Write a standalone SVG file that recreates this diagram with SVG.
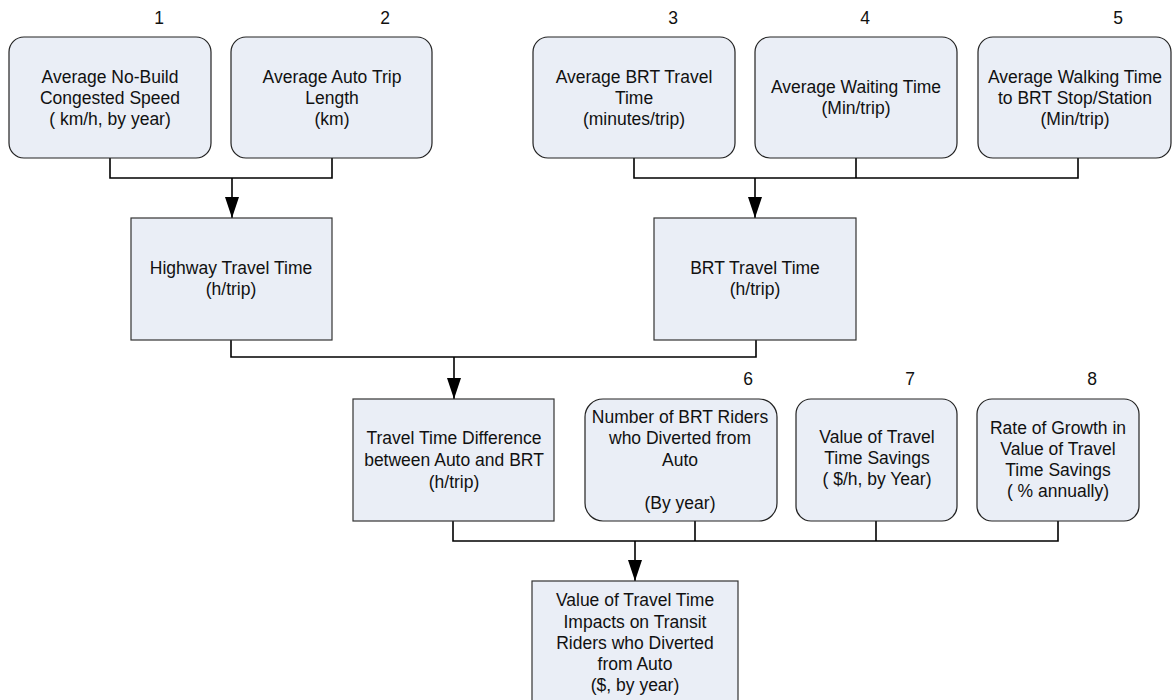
<svg xmlns="http://www.w3.org/2000/svg" width="1173" height="700" viewBox="0 0 1173 700">
  <style>
    text { font-family: "Liberation Sans", Arial, sans-serif; font-size: 17.5px; fill: #111; text-anchor: middle; }
    .input { fill: #eaeef6; stroke: #222; stroke-width: 1.2; }
    .calc { fill: #eaeef6; stroke: #333; stroke-width: 1.2; }
    .wire { fill: none; stroke: #000; stroke-width: 1.6; }
    .flow { fill: none; stroke: #000; stroke-width: 1.6; marker-end: url(#head); }
  </style>
  <defs>
    <marker id="head" viewBox="0 0 21 14" markerWidth="21" markerHeight="14" refX="21" refY="7" orient="auto" markerUnits="userSpaceOnUse">
      <path d="M0,0 L21,7 L0,14 z" fill="#000"/>
    </marker>
  </defs>
  <rect width="1173" height="700" fill="#fff"/>

  <!-- input numbers -->
  <g id="labels">
    <text x="159" y="24">1</text>
    <text x="385" y="24">2</text>
    <text x="673" y="24">3</text>
    <text x="865" y="24">4</text>
    <text x="1118" y="24">5</text>
    <text x="748" y="385">6</text>
    <text x="910" y="385">7</text>
    <text x="1092" y="385">8</text>
  </g>

  <!-- connectors -->
  <g id="connectors">
    <path class="wire" d="M110,158 V178 H332 V158"/>
    <path class="flow" d="M232,178 V218"/>
    <path class="wire" d="M634,158 V178 H1078 V158 M856,158 V178"/>
    <path class="flow" d="M755,178 V218"/>
    <path class="wire" d="M231,340 V357 H756 V340"/>
    <path class="flow" d="M454,357 V399"/>
    <path class="wire" d="M453,521 V541 H1058 V521 M695,521 V541 M876,521 V541"/>
    <path class="flow" d="M635,541 V581"/>
  </g>

  <g id="n1">
    <rect class="input" x="9" y="37" width="202" height="121" rx="15"/>
    <text x="110" y="83">Average No-Build</text>
    <text x="110" y="104">Congested Speed</text>
    <text x="110" y="125">( km/h, by year)</text>
  </g>
  <g id="n2">
    <rect class="input" x="231" y="37" width="201" height="121" rx="15"/>
    <text x="332" y="83">Average Auto Trip</text>
    <text x="332" y="104">Length</text>
    <text x="332" y="125">(km)</text>
  </g>
  <g id="n3">
    <rect class="input" x="533" y="37" width="202" height="121" rx="15"/>
    <text x="634" y="83">Average BRT Travel</text>
    <text x="634" y="104">Time</text>
    <text x="634" y="125">(minutes/trip)</text>
  </g>
  <g id="n4">
    <rect class="input" x="755" y="37" width="202" height="121" rx="15"/>
    <text x="856" y="93">Average Waiting Time</text>
    <text x="856" y="114">(Min/trip)</text>
  </g>
  <g id="n5">
    <rect class="input" x="978" y="37" width="193" height="121" rx="15"/>
    <text x="1075" y="83">Average Walking Time</text>
    <text x="1075" y="104">to BRT Stop/Station</text>
    <text x="1075" y="125">(Min/trip)</text>
  </g>

  <g id="highway">
    <rect class="calc" x="131" y="218" width="201" height="122"/>
    <text x="231" y="274">Highway Travel Time</text>
    <text x="231" y="295">(h/trip)</text>
  </g>
  <g id="brt">
    <rect class="calc" x="654" y="218" width="202" height="122"/>
    <text x="755" y="274">BRT Travel Time</text>
    <text x="755" y="295">(h/trip)</text>
  </g>

  <g id="difference">
    <rect class="calc" x="353" y="399" width="201" height="122"/>
    <text x="454" y="444">Travel Time Difference</text>
    <text x="454" y="466">between Auto and BRT</text>
    <text x="454" y="488">(h/trip)</text>
  </g>
  <g id="n6">
    <rect class="input" x="585" y="399" width="192" height="122" rx="18"/>
    <text x="680" y="423">Number of BRT Riders</text>
    <text x="680" y="444">who Diverted from</text>
    <text x="680" y="466">Auto</text>
    <text x="680" y="509">(By year)</text>
  </g>
  <g id="n7">
    <rect class="input" x="796" y="399" width="161" height="122" rx="15"/>
    <text x="877" y="443">Value of Travel</text>
    <text x="877" y="464">Time Savings</text>
    <text x="877" y="485">( $/h, by Year)</text>
  </g>
  <g id="n8">
    <rect class="input" x="977" y="399" width="162" height="122" rx="15"/>
    <text x="1058" y="434">Rate of Growth in</text>
    <text x="1058" y="455">Value of Travel</text>
    <text x="1058" y="476">Time Savings</text>
    <text x="1058" y="497">( % annually)</text>
  </g>

  <g id="result">
    <rect class="calc" x="532" y="581" width="206" height="130"/>
    <text x="635" y="606">Value of Travel Time</text>
    <text x="635" y="628">Impacts on Transit</text>
    <text x="635" y="649">Riders who Diverted</text>
    <text x="635" y="670">from Auto</text>
    <text x="635" y="691">($, by year)</text>
  </g>
</svg>
